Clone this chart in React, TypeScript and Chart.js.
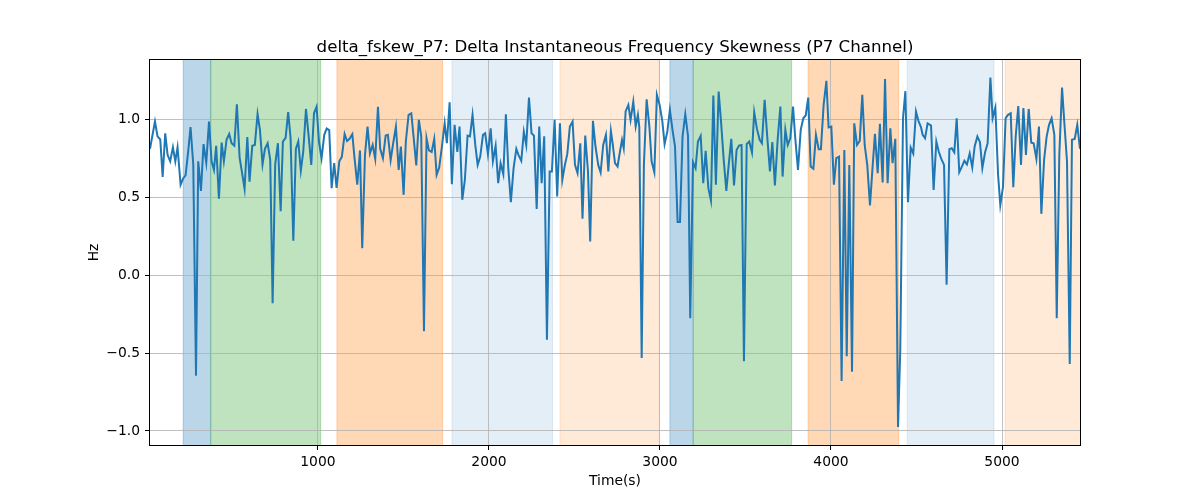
import React, { useEffect, useRef } from "react";
import { Chart, registerables } from "chart.js";

Chart.register(...registerables);

const TITLE = "delta_fskew_P7: Delta Instantaneous Frequency Skewness (P7 Channel)";
const X_LABEL = "Time(s)";
const Y_LABEL = "Hz";

const xTicks = [1000, 2000, 3000, 4000, 5000];
const yTicks = [-1.0, -0.5, 0.0, 0.5, 1.0];

const times = [
  18, 47, 62, 78, 92, 107, 121, 136, 152, 166, 179, 197, 212, 226, 242, 255, 271, 287, 300, 316,
  331, 347, 363, 378, 392, 405, 421, 437, 450, 466, 481, 495, 511, 526, 542, 555, 571, 587, 600, 616,
  631, 647, 661, 676, 690, 706, 721, 735, 750, 766, 782, 795, 811, 826, 840, 856, 871, 885, 900, 914,
  930, 945, 961, 977, 992, 1006, 1021, 1037, 1051, 1066, 1080, 1095, 1109, 1125, 1140, 1156, 1170, 1185, 1201, 1214,
  1230, 1246, 1259, 1275, 1290, 1304, 1320, 1335, 1351, 1364, 1380, 1396, 1409, 1425, 1440, 1456, 1472, 1485, 1501, 1514,
  1530, 1546, 1559, 1575, 1590, 1604, 1620, 1635, 1649, 1665, 1680, 1694, 1709, 1725, 1741, 1754, 1770, 1783, 1799, 1815,
  1828, 1844, 1859, 1875, 1889, 1904, 1920, 1934, 1949, 1965, 1978, 1994, 2010, 2023, 2039, 2054, 2068, 2084, 2099, 2113,
  2128, 2144, 2160, 2173, 2189, 2204, 2218, 2234, 2249, 2263, 2279, 2294, 2308, 2323, 2339, 2355, 2368, 2384, 2399, 2415,
  2429, 2444, 2458, 2473, 2489, 2503, 2518, 2534, 2547, 2563, 2579, 2592, 2608, 2623, 2639, 2653, 2668, 2684, 2698, 2713,
  2723, 2737, 2752, 2766, 2778, 2788, 2799, 2815, 2828, 2844, 2858, 2871, 2879, 2893, 2906, 2922, 2938, 2951, 2967, 2982,
  2998, 3014, 3027, 3043, 3058, 3074, 3088, 3103, 3117, 3132, 3148, 3164, 3177, 3193, 3208, 3222, 3238, 3253, 3267, 3283,
  3298, 3312, 3327, 3343, 3357, 3372, 3388, 3401, 3417, 3433, 3448, 3462, 3477, 3491, 3507, 3522, 3538, 3551, 3567, 3583,
  3596, 3612, 3627, 3643, 3657, 3672, 3688, 3704, 3717, 3733, 3747, 3762, 3778, 3791, 3807, 3823, 3838, 3852, 3867, 3881,
  3897, 3912, 3928, 3941, 3957, 3973, 3986, 4002, 4017, 4031, 4047, 4062, 4078, 4092, 4107, 4123, 4136, 4152, 4168, 4183,
  4197, 4212, 4228, 4242, 4257, 4273, 4286, 4302, 4316, 4331, 4347, 4360, 4376, 4392, 4405, 4421, 4435, 4450, 4466, 4481,
  4497, 4511, 4526, 4536, 4550, 4565, 4585, 4600, 4616, 4630, 4645, 4661, 4676, 4692, 4706, 4721, 4735, 4750, 4766, 4780,
  4795, 4811, 4826, 4840, 4856, 4871, 4885, 4901, 4916, 4932, 4945, 4961, 4977, 4990, 5006, 5021, 5035, 5051, 5066, 5080,
  5095, 5111, 5125, 5140, 5156, 5171, 5185, 5201, 5216, 5230, 5246, 5261, 5275, 5290, 5306, 5320, 5335, 5351, 5364, 5380,
  5396, 5409, 5425, 5440, 5456,
];

const values = [
  0.81, 0.985, 0.89, 0.87, 0.63, 0.91, 0.77, 0.73, 0.82, 0.73, 0.82, 0.58, 0.62, 0.64, 0.8, 0.95, 0.71, -0.645, 0.73, 0.54,
  0.84, 0.72, 0.985, 0.73, 0.675, 0.83, 0.49, 0.85, 0.73, 0.87, 0.905, 0.846, 0.83, 1.096, 0.754, 0.665, 0.553, 0.885, 0.6, 0.83,
  0.835, 1.034, 0.93, 0.71, 0.81, 0.846, 0.74, -0.18, 0.71, 0.846, 0.41, 0.857, 0.88, 1.045, 0.88, 0.22, 0.81, 0.857, 0.67, 0.79,
  1.066, 0.9, 0.707, 1.038, 1.08, 0.857, 0.75, 0.9, 0.94, 0.93, 0.558, 0.718, 0.56, 0.73, 0.76, 0.905, 0.86, 0.874, 0.904, 0.75,
  0.58, 0.8, 0.173, 0.77, 0.953, 0.78, 0.835, 0.746, 1.08, 0.81, 0.75, 0.895, 0.9, 0.737, 0.846, 0.953, 0.675, 0.825, 0.515, 0.857,
  1.028, 1.038, 0.89, 0.703, 0.996, 0.89, -0.36, 0.878, 0.8, 0.79, 0.874, 0.643, 0.69, 0.825, 0.974, 0.846, 1.109, 0.583, 0.964, 0.79,
  0.953, 0.483, 0.61, 0.895, 0.89, 1.028, 0.835, 0.707, 0.76, 0.9, 0.91, 0.776, 0.942, 0.73, 0.83, 0.59, 0.718, 0.647, 1.032, 0.686,
  0.468, 0.686, 0.81, 0.77, 0.733, 0.92, 0.835, 1.139, 0.91, 0.895, 0.425, 0.953, 0.59, 0.89, -0.415, 0.665, 0.665, 0.996, 0.504, 0.974,
  0.61, 0.707, 0.776, 0.953, 0.985, 0.707, 0.654, 0.846, 0.361, 0.895, 0.665, 0.216, 0.99, 0.825, 0.707, 0.658, 0.835, 0.9, 0.665, 0.925,
  0.846, 0.718, 0.697, 0.793, 0.868, 0.814, 1.05, 1.092, 0.996, 1.113, 0.953, 1.028, 0.95, -0.532, 0.707, 1.128, 0.953, 0.73, 0.66, 1.156,
  1.092, 0.985, 0.84, 0.92, 1.06, 0.925, 0.825, 0.34, 0.34, 0.89, 1.032, 0.89, -0.276, 0.724, 0.686, 0.857, 0.893, 0.59, 0.797, 0.558,
  0.479, 1.152, 0.58, 1.177, 0.985, 0.75, 0.54, 0.697, 0.874, 0.575, 0.803, 0.831, 0.835, -0.553, 0.84, 0.857, 0.786, 1.045, 0.938, 0.868,
  0.846, 1.124, 0.89, 0.665, 0.853, 0.575, 0.868, 1.081, 0.632, 0.932, 0.835, 0.878, 1.081, 0.878, 0.675, 0.932, 1.006, 1.024, 1.139, 0.697,
  0.682, 0.9, 0.808, 0.808, 1.092, 1.246, 0.947, 0.953, 0.58, 0.75, 0.76, -0.68, 0.803, -0.52, 0.707, -0.62, 0.974, 0.835, 0.861, 1.156,
  0.835, 0.707, 0.447, 0.675, 0.906, 0.654, 0.97, 0.594, 1.258, 0.59, 0.942, 0.718, 0.874, -0.974, -0.48, 1.006, 1.18, 0.468, 0.818, 0.78,
  1.049, 0.99, 0.95, 0.9, 0.878, 0.974, 0.96, 0.547, 0.857, 0.793, 0.746, 0.707, -0.062, 0.808, 0.814, 0.788, 1.006, 0.66, 0.697, 0.733,
  0.71, 0.78, 0.69, 0.825, 0.889, 0.853, 0.686, 0.788, 0.846, 1.267, 1.006, 1.075, 0.643, 0.45, 0.568, 1.006, 1.028, 1.038, 0.564, 0.889,
  1.085, 0.707, 1.071, 0.771, 1.066, 0.85, 0.846, 0.746, 0.953, 0.393, 0.739, 0.889, 0.964, 1.006, 0.9, -0.276, 0.771, 1.203, 0.985, 0.729,
  -0.571, 0.868, 0.874, 0.964, 0.81,
];

// Shaded time intervals (seconds)
const spanStarts = [212, 373, 1111, 1784, 2415, 3058, 3194, 3866, 4446, 5018];
const spanEnds = [373, 1016, 1729, 2372, 2996, 3194, 3770, 4396, 4953, 5470];
const spanKinds = [0, 1, 2, 3, 4, 0, 1, 2, 3, 4];

const X_MIN = 18;
const X_MAX = 5456;
const Y_MIN = -1.09;
const Y_MAX = 1.38;

const SPAN_FILLS = [
  "rgba(31,119,180,0.3)",
  "rgba(44,160,44,0.3)",
  "rgba(255,127,14,0.3)",
  "rgba(31,119,180,0.12)",
  "rgba(255,127,14,0.16)",
];

const FONT = '"DejaVu Sans", "Liberation Sans", sans-serif';

const decorPlugin = {
  id: "decor",
  beforeDraw(chart: any) {
    const { ctx, chartArea: a, scales } = chart;
    const x = scales.x;
    ctx.save();
    ctx.beginPath();
    ctx.rect(a.left, a.top, a.right - a.left, a.bottom - a.top);
    ctx.clip();
    for (let i = 0; i < spanStarts.length; i++) {
      const x0 = x.getPixelForValue(spanStarts[i]);
      const x1 = x.getPixelForValue(spanEnds[i]);
      const col = SPAN_FILLS[spanKinds[i]];
      ctx.fillStyle = col;
      ctx.fillRect(x0, a.top, x1 - x0, a.bottom - a.top);
      ctx.strokeStyle = col;
      ctx.lineWidth = 1;
      ctx.beginPath();
      ctx.moveTo(x0, a.top);
      ctx.lineTo(x0, a.bottom);
      ctx.moveTo(x1, a.top);
      ctx.lineTo(x1, a.bottom);
      ctx.stroke();
    }
    ctx.restore();
  },
  afterDraw(chart: any) {
    const { ctx, chartArea: a } = chart;
    ctx.save();
    ctx.strokeStyle = "#000";
    ctx.lineWidth = 1;
    ctx.strokeRect(Math.round(a.left) - 0.5, Math.round(a.top) - 0.5, Math.round(a.right - a.left) + 1, Math.round(a.bottom - a.top) + 1);

    ctx.fillStyle = "#000";
    ctx.font = `16.67px ${FONT}`;
    ctx.textAlign = "center";
    ctx.textBaseline = "alphabetic";
    const cx = (a.left + a.right) / 2;
    ctx.fillText(TITLE, cx, a.top - 8.3);

    ctx.font = `13.89px ${FONT}`;
    ctx.textBaseline = "middle";
    ctx.fillText(X_LABEL, cx, 481);

    ctx.translate(94, (a.top + a.bottom) / 2);
    ctx.rotate(-Math.PI / 2);
    ctx.fillText(Y_LABEL, 0, 0);
    ctx.restore();
  },
};

export default function App() {
  const ref = useRef<HTMLCanvasElement | null>(null);

  useEffect(() => {
    if (!ref.current) return;
    const points = times.map((t, i) => ({ x: t, y: values[i] }));
    const chart = new Chart(ref.current, {
      type: "line",
      data: {
        datasets: [
          {
            data: points,
            borderColor: "#1f77b4",
            borderWidth: 2,
            pointRadius: 0,
            tension: 0,
            fill: false,
          },
        ],
      },
      options: {
        animation: false,
        responsive: false,
        devicePixelRatio: 1,
        layout: { padding: { left: 0, right: 120, top: 60, bottom: 0 } },
        plugins: {
          legend: { display: false },
          tooltip: { enabled: false },
          title: { display: false },
        },
        scales: {
          x: {
            type: "linear",
            min: X_MIN,
            max: X_MAX,
            afterBuildTicks: (s: any) => {
              s.ticks = xTicks.map((v) => ({ value: v }));
            },
            afterFit: (s: any) => {
              s.height = 55;
            },
            ticks: {
              color: "#000",
              font: { family: FONT, size: 13.89 },
              padding: 4,
              maxRotation: 0,
              autoSkip: false,
              callback: (v: any) => String(v),
            },
            grid: {
              color: "#b0b0b0",
              lineWidth: 0.8,
              drawTicks: true,
              tickLength: 5,
              tickColor: "#000",
              tickWidth: 1,
            },
            border: { display: false },
          },
          y: {
            type: "linear",
            min: Y_MIN,
            max: Y_MAX,
            afterBuildTicks: (s: any) => {
              s.ticks = yTicks.map((v) => ({ value: v }));
            },
            afterFit: (s: any) => {
              s.width = 150;
            },
            ticks: {
              color: "#000",
              font: { family: FONT, size: 13.89 },
              padding: 5,
              autoSkip: false,
              callback: (v: any) => Number(v).toFixed(1).replace("-", "\u2212"),
            },
            grid: {
              color: "#b0b0b0",
              lineWidth: 0.8,
              drawTicks: true,
              tickLength: 5,
              tickColor: "#000",
              tickWidth: 1,
            },
            border: { display: false },
          },
        },
      },
      plugins: [decorPlugin],
    } as any);
    return () => chart.destroy();
  }, []);

  return (
    <div style={{ position: "absolute", left: 0, top: 0, width: 1200, height: 500, background: "#fff" }}>
      <canvas ref={ref} width={1200} height={500} style={{ display: "block", width: 1200, height: 500 }} />
    </div>
  );
}
